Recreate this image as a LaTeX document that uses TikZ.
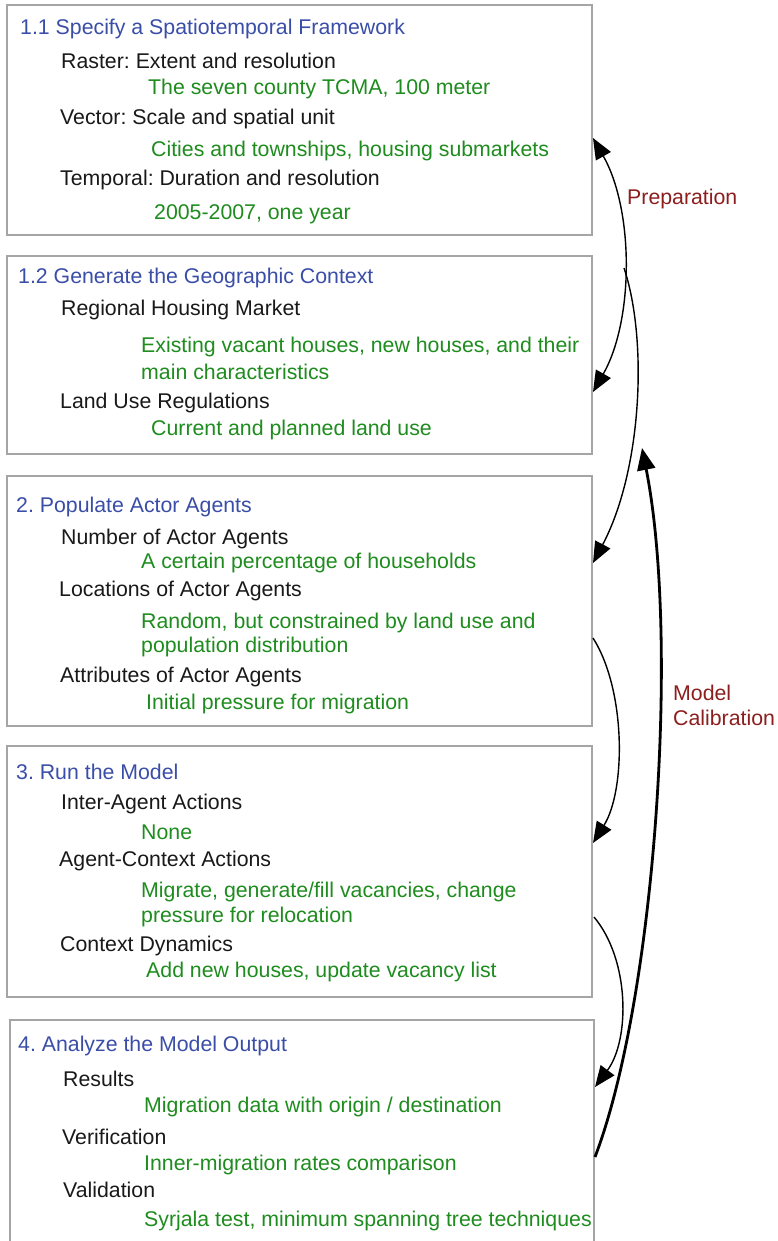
\documentclass[tikz,border=0pt]{standalone}
\usepackage{fontspec}
\setmainfont{Liberation Sans}
\frenchspacing
\usetikzlibrary{arrows.meta}
\definecolor{hblue}{RGB}{58,78,168}
\definecolor{tgreen}{RGB}{30,140,30}
\definecolor{lred}{RGB}{140,30,30}
\definecolor{boxgray}{RGB}{165,165,165}
\tikzset{
  box/.style={draw=boxgray, line width=2pt, rectangle, anchor=north west, inner sep=0pt},
  txt/.style={anchor=west, inner sep=0pt, yshift=-2pt, font=\fontsize{21.3}{25}\selectfont},
  head/.style={txt, text=hblue},
  item/.style={txt, text=black!90},
  val/.style={txt, text=tgreen},
  lbl/.style={txt, text=lred, align=left},
  conn/.style={line width=1.4pt, -{Triangle[length=21pt,width=17pt]}},
  calib/.style={line width=2.8pt, -{Triangle[length=22pt,width=18pt]}}
}
\begin{document}
\begin{tikzpicture}[x=1pt,y=-1pt]
\clip (0,0) rectangle (778,1241);
\fill[white] (0,0) rectangle (778,1241);
% boxes
\node[box, minimum width=585pt, minimum height=230pt] (b1) at (6,4) {};
\node[box, minimum width=585pt, minimum height=198pt] (b2) at (6,255) {};
\node[box, minimum width=585pt, minimum height=250pt] (b3) at (6,475) {};
\node[box, minimum width=585pt, minimum height=251pt] (b4) at (6,745) {};
\node[box, minimum width=584pt, minimum height=260pt] (b5) at (9,1019) {};
% box 1
\node[head] (t11) at (20,27) {1.1 Specify a Spatiotemporal Framework};
\node[item] (t12) at (61,59) {Raster: Extent and resolution};
\node[val] (t13) at (148,87) {The seven county TCMA, 100 meter};
\node[item] (t14) at (60,117) {Vector: Scale and spatial unit};
\node[val] (t15) at (151,149) {Cities and townships, housing submarkets};
\node[item] (t16) at (60,178) {Temporal: Duration and resolution};
\node[val] (t17) at (154,212) {2005-2007, one year};
% box 2
\node[head] (t21) at (18,276) {1.2 Generate the Geographic Context};
\node[item] (t22) at (61,308) {Regional Housing Market};
\node[val] (t23) at (141,345) {Existing vacant houses, new houses, and their};
\node[val] (t24) at (141,370) {main characteristics};
\node[item] (t25) at (60,401) {Land Use Regulations};
\node[val] (t26) at (151,428) {Current and planned land use};
% box 3
\node[head] (t31) at (16,505) {2. Populate Actor Agents};
\node[item] (t32) at (61,537) {Number of Actor Agents};
\node[val] (t33) at (141,561) {A certain percentage of households};
\node[item] (t34) at (59,589) {Locations of Actor Agents};
\node[val] (t35) at (141,621) {Random, but constrained by land use and};
\node[val] (t36) at (141,645) {population distribution};
\node[item] (t37) at (60,675) {Attributes of Actor Agents};
\node[val] (t38) at (146,702) {Initial pressure for migration};
% box 4
\node[head] (t41) at (16,770) {3. Run the Model};
\node[item] (t42) at (61,802) {Inter-Agent Actions};
\node[val] (t43) at (141,830) {None};
\node[item] (t44) at (59,859) {Agent-Context Actions};
\node[val] (t45) at (141,890) {Migrate, generate/fill vacancies, change};
\node[val] (t46) at (141,915) {pressure for relocation};
\node[item] (t47) at (60,944) {Context Dynamics};
\node[val] (t48) at (146,970) {Add new houses, update vacancy list};
% box 5
\node[head] (t51) at (18,1044) {4. Analyze the Model Output};
\node[item] (t52) at (63,1077) {Results};
\node[val] (t53) at (144,1105) {Migration data with origin / destination};
\node[item] (t54) at (62,1135) {Verification};
\node[val] (t55) at (144,1163) {Inner-migration rates comparison};
\node[item] (t56) at (63,1188) {Validation};
\node[val] (t57) at (144,1219) {Syrjala test, minimum spanning tree techniques};
% labels
\node[lbl] (prep) at (627,197) {Preparation};
\node[lbl] (calibl) at (673,703) {Model\\[0pt]Calibration};
% connector end points
\coordinate (a1) at (b1.east |- 0,138);
\coordinate (a2) at (b2.east |- 0,392);
\coordinate (s2) at (624,268);
\coordinate (a3) at (b3.east |- 0,563);
\coordinate (s3) at (b3.east |- 0,638);
\coordinate (a4) at (b4.east |- 0,843);
\coordinate (s4) at (594,917);
\coordinate (a5) at (b5.east |- 0,1087);
\coordinate (s5) at (b5.east |- 0,1157);
\coordinate (c5) at (642,448);
% connectors
\draw[conn, {Triangle[length=21pt,width=17pt]}-{Triangle[length=21pt,width=17pt]}] (a1) .. controls (634,210) and (634,320) .. (a2);
\draw[conn] (s2) .. controls (648,340) and (642,470) .. (a3);
\draw[conn] (s3) .. controls (626,690) and (626,790) .. (a4);
\draw[conn] (s4) .. controls (630,960) and (630,1040) .. (a5);
\draw[calib] (s5) .. controls (655,1000) and (680,640) .. (c5);
\end{tikzpicture}
\end{document}
